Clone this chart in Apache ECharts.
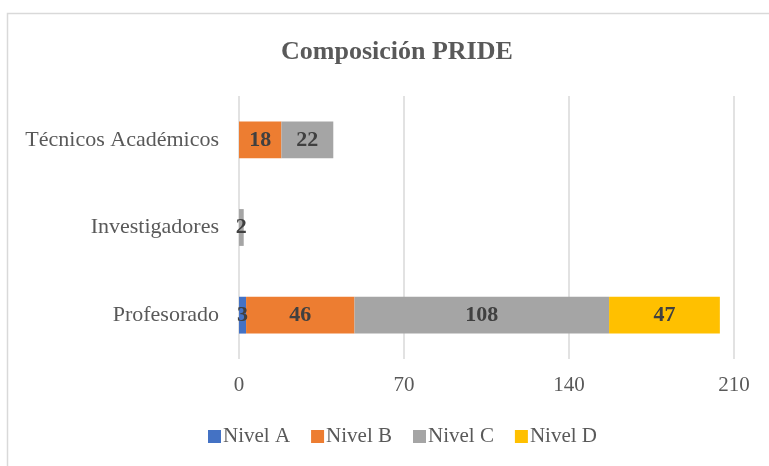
<!DOCTYPE html>
<html>
<head>
<meta charset="utf-8">
<script src="https://cdn.jsdelivr.net/npm/echarts@6/dist/echarts.min.js"></script>
<style>
  html, body { margin: 0; padding: 0; background: #fff; }
  #chart { width: 769px; height: 466px; }
</style>
</head>
<body>
<div id="chart"></div>
<script>
const categories = ['Profesorado', 'Investigadores', 'Técnicos Académicos']
const nivelA = [3, 0, 0]
const nivelB = [46, 0, 18]
const nivelC = [108, 2, 22]
const nivelD = [47, 0, 0]
const seriesNames = ['Nivel A', 'Nivel B', 'Nivel C', 'Nivel D']
const colors = ['#4472c4', '#ed7d31', '#a5a5a5', '#ffc000']

const font = '"Liberation Serif", serif'
const chart = echarts.init(document.getElementById('chart'))

function makeSeries(name, values, color) {
  return {
    name: name,
    type: 'bar',
    stack: 'total',
    barWidth: '42%',
    itemStyle: { color: color },
    label: {
      show: true,
      position: 'inside',
      color: '#404040',
      fontFamily: font,
      fontWeight: 'bold',
      fontSize: 22,
      formatter: (p) => (p.value ? p.value : ''),
    },
    data: values,
  }
}

chart.setOption({
  animation: false,
  color: colors,
  title: {
    text: 'Composición PRIDE',
    left: 276,
    top: 34,
    textStyle: { fontFamily: font, fontSize: 26, fontWeight: 'bold', color: '#595959' },
  },
  legend: {
    bottom: 14,
    left: 203,
    itemWidth: 13,
    itemHeight: 13,
    itemGap: 21,
    icon: 'rect',
    textStyle: { fontFamily: font, fontSize: 21, color: '#595959', padding: [0, 0, 0, -3] },
    data: seriesNames,
  },
  grid: { left: 239, right: 35, top: 96, bottom: 107, containLabel: false },
  xAxis: {
    type: 'value',
    min: 0,
    max: 210,
    interval: 70,
    axisLine: { show: false },
    axisTick: { show: false },
    splitLine: { lineStyle: { color: '#d9d9d9', width: 1.5 } },
    axisLabel: { fontFamily: font, fontSize: 21, color: '#595959', margin: 16 },
  },
  yAxis: {
    type: 'category',
    data: categories,
    axisLine: { show: false },
    axisTick: { show: false },
    axisLabel: { fontFamily: font, fontSize: 22, color: '#595959', margin: 20, padding: [3, 0, 0, 0] },
  },
  graphic: [{
    type: 'rect',
    shape: { x: 7.5, y: 13.5, width: 800, height: 500 },
    style: { fill: 'none', stroke: '#d9d9d9', lineWidth: 1.5 },
  }],
  series: [
    makeSeries(seriesNames[0], nivelA, colors[0]),
    makeSeries(seriesNames[1], nivelB, colors[1]),
    makeSeries(seriesNames[2], nivelC, colors[2]),
    makeSeries(seriesNames[3], nivelD, colors[3]),
  ],
})
</script>
</body>
</html>
